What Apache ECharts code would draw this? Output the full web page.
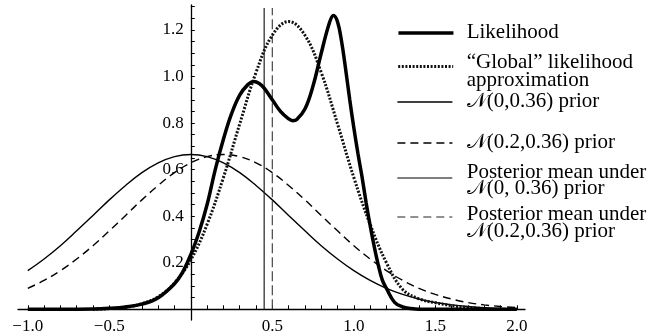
<!DOCTYPE html>
<html><head><meta charset="utf-8">
<script src="https://cdn.jsdelivr.net/npm/echarts@6/dist/echarts.min.js"></script>
<style>html,body{margin:0;padding:0;background:#fff}#c{width:652px;height:336px}</style>
</head><body><div id="c"></div>
<script>
// ---- data ----
const priorX = [-1.0,-0.9,-0.8,-0.7,-0.6,-0.5,-0.4,-0.3,-0.2,-0.1,0,0.1,0.2,0.3,0.4,0.5,0.6,0.7,0.8,0.9,1.0,1.1,1.2,1.3,1.4,1.5,1.6,1.7,1.8,1.9,2.0];
const prior0 = [0.166,0.216,0.273,0.337,0.403,0.470,0.532,0.587,0.629,0.656,0.665,0.656,0.629,0.587,0.532,0.470,0.403,0.337,0.273,0.216,0.166,0.124,0.090,0.064,0.044,0.029,0.019,0.012,0.007,0.004,0.003];
const prior02 = [0.090,0.124,0.166,0.216,0.273,0.337,0.403,0.470,0.532,0.587,0.629,0.656,0.665,0.656,0.629,0.587,0.532,0.470,0.403,0.337,0.273,0.216,0.166,0.124,0.090,0.064,0.044,0.029,0.019,0.012,0.007];
const likX = [-1.0,-0.8,-0.6,-0.5,-0.4,-0.3,-0.2,-0.1,-0.05,0,0.05,0.1,0.15,0.2,0.25,0.3,0.35,0.385,0.42,0.45,0.5,0.55,0.6,0.625,0.65,0.7,0.75,0.8,0.85,0.875,0.9,0.925,0.95,0.975,1.0,1.025,1.05,1.075,1.1,1.125,1.15,1.175,1.2,1.25,1.3,1.35,1.4,1.5,2.0];
const likY = [0,0,0.001,0.004,0.01,0.022,0.05,0.11,0.16,0.235,0.33,0.45,0.6,0.73,0.84,0.92,0.965,0.978,0.97,0.95,0.9,0.85,0.818,0.81,0.815,0.86,0.96,1.1,1.23,1.262,1.235,1.15,1.03,0.9,0.78,0.67,0.57,0.46,0.36,0.27,0.19,0.125,0.09,0.03,0.01,0.003,0,0,0];
const globX = [-0.6,-0.5,-0.4,-0.3,-0.2,-0.1,0,0.1,0.2,0.3,0.4,0.5,0.6,0.7,0.8,0.9,1.0,1.1,1.2,1.3,1.4,1.5,1.6,1.7,1.8];
const globY = [0,0.003,0.009,0.024,0.054,0.113,0.212,0.365,0.566,0.796,1.017,1.177,1.236,1.177,1.017,0.796,0.566,0.365,0.2,0.085,0.045,0.028,0.016,0.008,0.003];
const postMean0 = 0.45;
const postMean02 = 0.50;
const postLineY = [0, 1.294];
const xTickValues = [-1.0,-0.9,-0.8,-0.7,-0.6,-0.5,-0.4,-0.3,-0.2,-0.1,0.1,0.2,0.3,0.4,0.5,0.6,0.7,0.8,0.9,1.0,1.1,1.2,1.3,1.4,1.5,1.6,1.7,1.8,1.9,2.0];
const xLabelValues = [-1.0,-0.5,0.5,1.0,1.5,2.0];
const yTickValues = [0.05,0.1,0.15,0.2,0.25,0.3,0.35,0.4,0.45,0.5,0.55,0.6,0.65,0.7,0.75,0.8,0.85,0.9,0.95,1.0,1.05,1.1,1.15,1.2,1.25,1.3];
const yLabelValues = [0.2,0.4,0.6,0.8,1.0,1.2];
const names = ['Likelihood','\u201CGlobal\u201D likelihood\napproximation','\uD835\uDCA9(0,0.36) prior','\uD835\uDCA9(0.2,0.36) prior','Posterior mean under\n\uD835\uDCA9(0, 0.36) prior','Posterior mean under\n\uD835\uDCA9(0.2,0.36) prior'];

const zip = (xs, ys) => xs.map((x, i) => [x, ys[i]]);
const FONT = "'Liberation Serif', 'DejaVu Serif', serif";
const fmt = v => (Math.round(v * 10) / 10).toFixed(1).replace('-', '\u2212');

const X_MIN = -1.06, X_MAX = 2.05, Y_MIN = -0.046, Y_MAX = 1.307;
const G = {left: 18, right: 127, top: 5, bottom: 16};
const gw = 652 - G.left - G.right, gh = 336 - G.top - G.bottom;
const yAxisOffset = -(0 - X_MIN) / (X_MAX - X_MIN) * gw;
const xAxisOffset = -(0 - Y_MIN) / (Y_MAX - Y_MIN) * gh;

// legend layout: icon centre y per entry, text line middles per entry
const legendIconY = [33, 66.5, 102, 143, 178, 217];
const legendTextY = [[32.5], [62.5, 80], [101.5], [142.5], [172, 188.5], [214.5, 231]];
const LEGEND_X = 396.7, LEGEND_TEXT_X = 466.7;
const legendLineStyles = [
  {width: 3.5, color: '#000'},
  {width: 3, color: '#111', type: [2, 1.6]},
  {width: 1.4, color: '#000'},
  {width: 1.4, color: '#000', type: [8, 5]},
  {width: 1.2, color: '#000'},
  {width: 1.2, color: '#222', type: [8, 5]}
];
const legends = names.map((n, i) => ({
  orient: 'vertical', left: LEGEND_X, top: legendIconY[i] - 5, padding: 0,
  itemWidth: 55, itemHeight: 10, itemGap: 0,
  selectedMode: false,
  itemStyle: {color: 'rgba(0,0,0,0)', borderColor: 'rgba(0,0,0,0)', borderWidth: 0},
  lineStyle: legendLineStyles[i],
  formatter: () => '',
  data: [n]
}));
const legendTexts = [];
names.forEach((n, i) => n.split('\n').forEach((line, j) => legendTexts.push({
  type: 'text', x: LEGEND_TEXT_X, y: legendTextY[i][j], silent: true,
  style: {text: line, fontFamily: FONT, fontSize: 21, fill: '#000', align: 'left', verticalAlign: 'middle'}
})));

const chart = echarts.init(document.getElementById('c'), null, {renderer: 'canvas'});
chart.setOption({
  animation: false,
  backgroundColor: '#fff',
  grid: Object.assign({containLabel: false, outerBoundsMode: 'none'}, G),
  xAxis: {
    type: 'value', min: X_MIN, max: X_MAX, position: 'bottom', offset: xAxisOffset,
    axisLine: {onZero: false, lineStyle: {color: '#000', width: 1.3}},
    axisTick: {inside: true, length: 4, customValues: xTickValues, lineStyle: {color: '#000', width: 1}},
    axisLabel: {customValues: xLabelValues, formatter: fmt, color: '#000', fontFamily: FONT, fontSize: 17, margin: 9},
    splitLine: {show: false}
  },
  yAxis: {
    type: 'value', min: Y_MIN, max: Y_MAX, position: 'left', offset: yAxisOffset,
    axisLine: {onZero: false, lineStyle: {color: '#000', width: 1.3}},
    axisTick: {inside: true, length: 4, customValues: yTickValues, lineStyle: {color: '#000', width: 1}},
    axisLabel: {customValues: yLabelValues, formatter: fmt, color: '#000', fontFamily: FONT, fontSize: 17, margin: 7},
    splitLine: {show: false}
  },
  legend: legends,
  graphic: legendTexts,
  series: [
    {name: names[0], type: 'line', data: zip(likX, likY), showSymbol: false, symbol: 'none', smooth: 0.4,
     lineStyle: {color: '#000', width: 3.5}, itemStyle: {color: '#000'}, z: 5},
    {name: names[1], type: 'line', data: zip(globX, globY), showSymbol: false, symbol: 'none', smooth: 0.4,
     lineStyle: {color: '#111', width: 3, type: [2, 1.6]}, itemStyle: {color: '#111'}, z: 4},
    {name: names[2], type: 'line', data: zip(priorX, prior0), showSymbol: false, symbol: 'none', smooth: 0.4,
     lineStyle: {color: '#000', width: 1.4}, itemStyle: {color: '#000'}},
    {name: names[3], type: 'line', data: zip(priorX, prior02), showSymbol: false, symbol: 'none', smooth: 0.4,
     lineStyle: {color: '#000', width: 1.4, type: [8, 5]}, itemStyle: {color: '#000'}},
    {name: names[4], type: 'line', data: postLineY.map(y => [postMean0, y]), showSymbol: false, symbol: 'none',
     lineStyle: {color: '#222', width: 1.2}, itemStyle: {color: '#222'}},
    {name: names[5], type: 'line', data: postLineY.map(y => [postMean02, y]), showSymbol: false, symbol: 'none',
     lineStyle: {color: '#444', width: 1.2, type: [10, 4]}, itemStyle: {color: '#444'}}
  ]
});
</script></body></html>
